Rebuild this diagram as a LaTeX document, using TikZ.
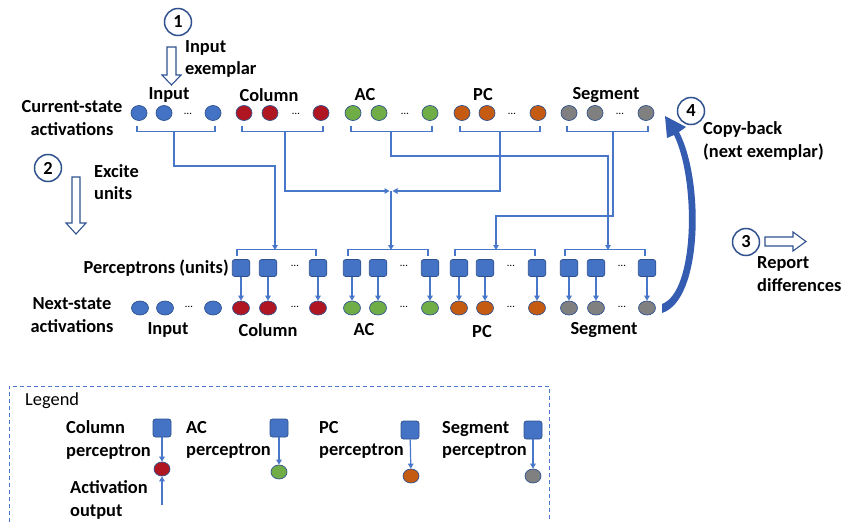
\documentclass[tikz,border=0pt]{standalone}
\usepackage{fontspec}
\setmainfont{Carlito}
\usetikzlibrary{shapes.geometric, arrows.meta}
\definecolor{ublue}{RGB}{68,114,196}
\definecolor{uline}{RGB}{47,82,143}
\definecolor{cwire}{RGB}{72,118,200}
\definecolor{cback}{RGB}{52,92,176}
\definecolor{ured}{RGB}{176,22,34}
\definecolor{ugreen}{RGB}{112,173,71}
\definecolor{uorange}{RGB}{197,90,17}
\definecolor{ugray}{RGB}{128,128,128}
\newcommand\dgfont{\fontsize{18.4}{22.5}\selectfont}

\begin{document}
\begin{tikzpicture}[x=1pt,y=-1pt,font=\dgfont\bfseries,
  cur/.style={ellipse,draw=uline,line width=.7pt,inner sep=0pt,minimum width=16pt,minimum height=15pt},
  nxt/.style={cur,minimum width=17pt,minimum height=14pt},
  perc/.style={draw=uline,fill=ublue,line width=.7pt,rounded corners=2.5pt,inner sep=0pt,minimum width=17.5pt,minimum height=17pt},
  dots/.style={font=\fontsize{11}{11}\selectfont,inner sep=0pt},
  wire/.style={draw=cwire,line width=1.2pt},
  tip/.style={wire,-{Triangle[width=5.5pt,length=5pt]}},
  stepno/.style={circle,draw=uline,line width=1.5pt,minimum size=27pt,inner sep=0pt},
  blk/.style={draw=uline,line width=1.1pt,fill=white},
  lbl/.style={align=center,inner sep=0pt}]
  \useasboundingbox (0,0) rectangle (844,522);
  % current-state activations
  \foreach \g/\cl/\a/\b/\d/\c in {inp/ublue/139/164/188/213, col/ured/244/270/296/321,
    ac/ugreen/353/379/405/430, pc/uorange/462/487/512/538, seg/ugray/569/595/620/646}{
    \node[cur,fill=\cl] (t\g1) at (\a,113) {};
    \node[cur,fill=\cl] (t\g2) at (\b,113) {};
    \node[dots] (d\g) at (\d,114) {…};
    \node[cur,fill=\cl] (t\g3) at (\c,113) {};
    \draw[wire] ([xshift=-2pt,yshift=-5.5pt]t\g1.south) -- ([xshift=-2pt,yshift=-10.5pt]t\g1.south)
      -| ([xshift=2pt,yshift=-5.5pt]t\g3.south);
  }
  \path (169,95) node[lbl] (hinp) {Input} (269,95) node[lbl] (hcol) {Column}
    (365,95) node[lbl] (hac) {AC} (483,95) node[lbl] (hpc) {PC} (606,95) node[lbl] (hseg) {Segment};
  \node[lbl] (lcur) at (72,118) {Current-state\\activations};

  % perceptrons and next-state activations
  \foreach \g/\cl/\a/\b/\d/\c in {col/ured/241/268/295/318, ac/ugreen/352/378/404/430,
    pc/uorange/459/485/511/537, seg/ugray/569/596/622/647}{
    \foreach \i/\x in {1/\a,2/\b,3/\c}{
      \node[perc] (p\g\i) at (\x,268) {};
      \node[nxt,fill=\cl] (n\g\i) at (\x,308) {};
      \draw[tip] (p\g\i) -- (n\g\i);
    }
    \node[dots] (dp\g) at (\d,266) {…};
    \node[dots] (dn\g) at (\d,307) {…};
    \draw[wire] ([xshift=-4pt,yshift=3.5pt]p\g1.north) -- ([xshift=-4pt,yshift=9.5pt]p\g1.north)
      -| ([xshift=-2pt,yshift=3.5pt]p\g3.north);
  }
  \path (140,308) node[nxt,fill=ublue] (ninp1) {} (165,308) node[nxt,fill=ublue] (ninp2) {}
    (189,307) node[dots] (dninp) {…} (213,308) node[nxt,fill=ublue] (ninp3) {};
  \path (168,330) node[lbl] (finp) {Input} (268,330) node[lbl] (fcol) {Column}
    (364,330) node[lbl] (fac) {AC} (482,332) node[lbl] (fpc) {PC} (604,330) node[lbl] (fseg) {Segment};
  \node[lbl,anchor=east] (lperc) at (229,268) {Perceptrons (units)};
  \node[lbl] (lnxt) at (72,315) {Next-state\\activations};

  % wiring from current state to perceptrons
  \path (174,131) coordinate (sinp) (285,131) coordinate (scol) (391,131) coordinate (sac)
    (500,131) coordinate (spc) (613,131) coordinate (sseg) (391,191) coordinate (jac);
  \path (275,250) coordinate (bcol) (391,250) coordinate (bac) (496,250) coordinate (bpc)
    (608,250) coordinate (bseg);
  \draw[tip] (sinp) |- (275,166) -- (bcol);
  \draw[tip,shorten >=1.5pt] (scol) |- (jac);
  \draw[tip,shorten >=1.5pt] (spc) |- (jac);
  \draw[tip] (jac) -- (bac);
  \draw[tip] (sac) |- (608,156) -- (bseg);
  \draw[tip] (sseg) |- (496,216) -- (bpc);

  % steps
  \node[stepno] (s1) at (178,22) {1};
  \draw[blk] (167,47) -- (176,47) -- (176,75) -- (181,75) -- (171.5,85) -- (162,75) -- (167,75) -- cycle;
  \node[lbl,align=left,anchor=west] (e1) at (185,59) {Input\\exemplar};
  \node[stepno] (s2) at (48,168) {2};
  \draw[blk] (72,177) -- (80,177) -- (80,223) -- (86,223) -- (76,234) -- (66,223) -- (72,223) -- cycle;
  \node[lbl,align=left,anchor=west] (e2) at (94,182) {Excite\\units};
  \node[stepno] (s3) at (746,242) {3};
  \draw[blk] (765,237) -- (793,237) -- (793,232) -- (806,241.5) -- (793,251) -- (793,246) -- (765,246) -- cycle;
  \node[lbl,align=left,anchor=west] (e3) at (757,274) {Report\\differences};
  \node[stepno] (s4) at (691,111) {4};
  \fill[cback] (662,313) .. controls (703,300) and (704,180) .. (679,132) -- (686,127) -- (665,116)
    -- (667,138) -- (674,135) .. controls (696,180) and (695,292) .. (662,304) -- cycle;
  \node[lbl,align=left,anchor=west] (e4) at (703,141) {Copy-back\\(next exemplar)};

  % legend
  \draw[cwire,line width=1pt,dash pattern=on 4pt off 3pt] (9,522) |- (549,386) -- (549,522);
  \node[lbl,anchor=west,font=\dgfont] (lleg) at (25,401) {Legend};
  \foreach \g/\nm/\cl/\tx/\sx/\sy/\cx/\cy in {col/Column/ured/66/162/428/162/469,
    ac/AC/ugreen/186/279/428/279/472, pc/PC/uorange/319/410/430/411/476,
    seg/Segment/ugray/442/533/430/533/476}{
    \node[lbl,align=left,anchor=west] (lt\g) at (\tx,440) {\nm\\perceptron};
    \node[perc,minimum size=18pt] (lp\g) at (\sx,\sy) {};
    \node[nxt,fill=\cl,minimum width=16pt] (lc\g) at (\cx,\cy) {};
    \draw[tip] (lp\g) -- (lc\g);
  }
  \node[lbl,align=left,anchor=west] (lact) at (70,500) {Activation\\output};
  \coordinate (aout) at (162,505);
  \draw[tip] (aout) -- (lccol);
\end{tikzpicture}
\end{document}
